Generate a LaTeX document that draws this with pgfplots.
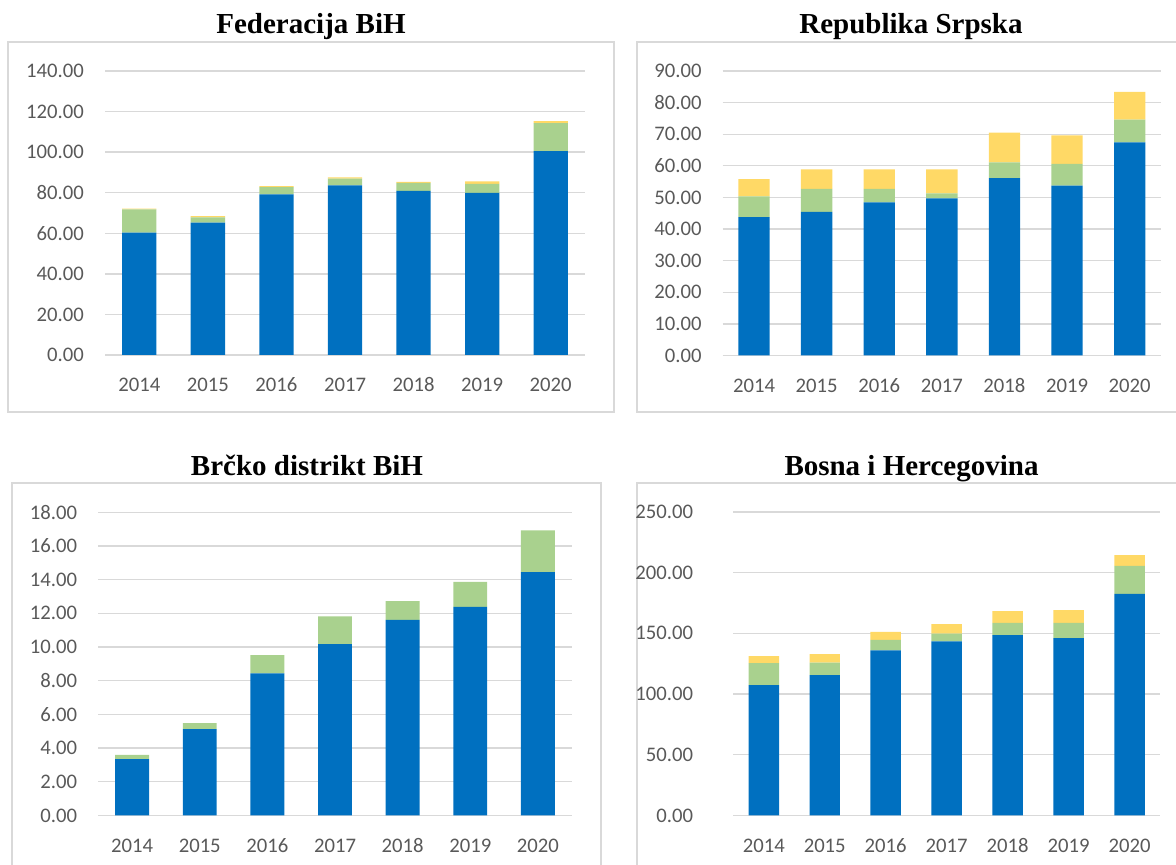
\documentclass[border=0pt]{standalone}
\usepackage{pgfplots}
\pgfplotsset{compat=1.18}
\usepackage{fontspec}
\setmainfont{Carlito}
\newfontfamily\titlefont{Liberation Serif}
\definecolor{cblue}{HTML}{0070C0}
\definecolor{cgreen}{HTML}{A9D18E}
\definecolor{cyellow}{HTML}{FFD966}
\definecolor{cgrid}{HTML}{D9D9D9}
\definecolor{ctext}{HTML}{595959}
\pgfplotsset{
  panel/.style={
    scale only axis, ybar stacked, bar width=0.5,
    xmin=-0.5, xmax=6.5, ymin=0,
    xtick={0,1,2,3,4,5,6},
    xticklabels={2014,2015,2016,2017,2018,2019,2020},
    axis line style={draw=none}, tick style={draw=none}, major tick length=0pt,
    ymajorgrids, grid style={cgrid, line width=1.3bp},
    ticklabel style={font=\fontsize{20.7bp}{24bp}\selectfont, text=ctext, inner sep=0pt},
    xticklabel style={anchor=base, yshift=-37bp},
    yticklabel style={anchor=east, xshift=-21bp},
    /pgf/number format/fixed, /pgf/number format/fixed zerofill,
    /pgf/number format/precision=2, /pgf/number format/assume math mode=true,
    every axis plot/.append style={draw=none},
  },
}
\begin{document}
\begin{tikzpicture}
\useasboundingbox (0bp,0bp) rectangle (1176bp,865bp);
\clip (0bp,0bp) rectangle (1176bp,865bp);
\draw[cgrid, line width=1.5bp] (8bp,453bp) rectangle (614bp,823bp);
\draw[cgrid, line width=1.5bp] (637bp,453bp) rectangle (1186bp,823bp);
\draw[cgrid, line width=1.5bp] (12bp,-10bp) rectangle (601bp,382bp);
\draw[cgrid, line width=1.5bp] (637bp,-10bp) rectangle (1186bp,382bp);

% Federacija BiH
\begin{axis}[panel, at={(105bp,510bp)}, anchor=south west, width=480bp, height=284bp,
  ymax=140, ytick={0,20,...,140}]
\addplot[fill=cblue] coordinates {(0,60.3) (1,65.2) (2,79.2) (3,83.6) (4,80.9) (5,79.9) (6,100.5)};
\addplot[fill=cgreen] coordinates {(0,11.5) (1,2.7) (2,3.5) (3,3.3) (4,4.0) (5,4.4) (6,13.8)};
\addplot[fill=cyellow] coordinates {(0,0.3) (1,0.5) (2,0.6) (3,0.7) (4,0.5) (5,1.3) (6,1.0)};
\end{axis}

% Republika Srpska
\begin{axis}[panel, at={(722.7bp,509.5bp)}, anchor=south west, width=438.3bp, height=284.5bp,
  ymax=90, ytick={0,10,...,90}]
\addplot[fill=cblue] coordinates {(0,43.8) (1,45.4) (2,48.4) (3,49.7) (4,56.1) (5,53.7) (6,67.4)};
\addplot[fill=cgreen] coordinates {(0,6.5) (1,7.3) (2,4.3) (3,1.6) (4,5.0) (5,6.9) (6,7.2)};
\addplot[fill=cyellow] coordinates {(0,5.5) (1,6.2) (2,6.2) (3,7.6) (4,9.4) (5,9.0) (6,8.8)};
\end{axis}

% Brcko distrikt BiH
\begin{axis}[panel, at={(98.3bp,49.5bp)}, anchor=south west, width=473.4bp, height=303.2bp,
  ymax=18, ytick={0,2,...,18}]
\addplot[fill=cblue] coordinates {(0,3.35) (1,5.13) (2,8.44) (3,10.18) (4,11.62) (5,12.39) (6,14.45)};
\addplot[fill=cgreen] coordinates {(0,0.25) (1,0.36) (2,1.08) (3,1.64) (4,1.11) (5,1.48) (6,2.47)};
\end{axis}

% Bosna i Hercegovina
\begin{axis}[panel, at={(733.3bp,49.6bp)}, anchor=south west, width=426.7bp, height=303.4bp,
  ymax=250, ytick={0,50,...,250}, yticklabel style={xshift=-19bp}]
\addplot[fill=cblue] coordinates {(0,107.4) (1,115.6) (2,136.0) (3,143.4) (4,148.6) (5,146.1) (6,182.6)};
\addplot[fill=cgreen] coordinates {(0,18.1) (1,10.2) (2,8.7) (3,6.3) (4,10.1) (5,12.6) (6,23.1)};
\addplot[fill=cyellow] coordinates {(0,5.8) (1,7.1) (2,6.6) (3,8.0) (4,9.7) (5,10.5) (6,8.8)};
\end{axis}

\begin{scope}[every node/.style={inner sep=0pt, anchor=base, font=\titlefont\bfseries\fontsize{29bp}{34bp}\selectfont}]
\node at (311bp,831bp) {Federacija BiH};
\node at (911bp,831bp) {Republika Srpska};
\node at (307bp,389bp) {Brčko distrikt BiH};
\node at (911.5bp,389bp) {Bosna i Hercegovina};
\end{scope}
\end{tikzpicture}
\end{document}
